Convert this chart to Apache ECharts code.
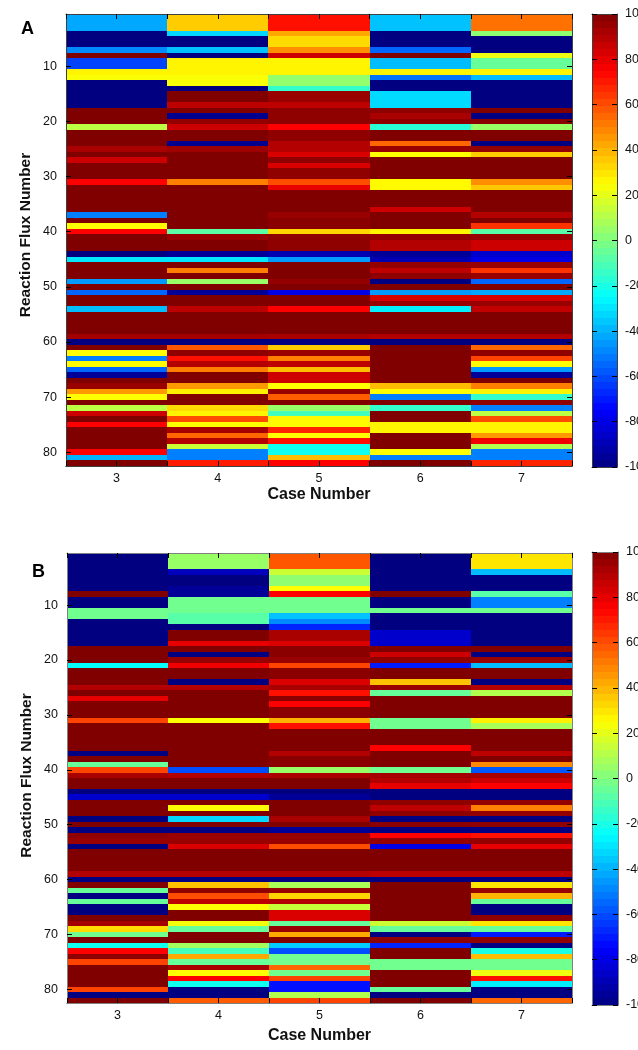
<!DOCTYPE html>
<html><head><meta charset="utf-8">
<style>html,body{margin:0;padding:0;background:#fff}#c{width:638px;height:1050px}</style>
<script src="https://cdn.jsdelivr.net/npm/echarts@6/dist/echarts.min.js"></script>
</head><body><div id="c"></div>
<script>
const cases = ['3','4','5','6','7'];
const fluxNumbers = ['1','2','3','4','5','6','7','8','9','10','11','12','13','14','15','16','17','18','19','20','21','22','23','24','25','26','27','28','29','30','31','32','33','34','35','36','37','38','39','40','41','42','43','44','45','46','47','48','49','50','51','52','53','54','55','56','57','58','59','60','61','62','63','64','65','66','67','68','69','70','71','72','73','74','75','76','77','78','79','80','81','82'];
const colorbarLevels = [-98.4,-95.3,-92.2,-89.1,-85.9,-82.8,-79.7,-76.6,-73.4,-70.3,-67.2,-64.1,-60.9,-57.8,-54.7,-51.6,-48.4,-45.3,-42.2,-39.1,-35.9,-32.8,-29.7,-26.6,-23.4,-20.3,-17.2,-14.1,-10.9,-7.8,-4.7,-1.6,1.6,4.7,7.8,10.9,14.1,17.2,20.3,23.4,26.6,29.7,32.8,35.9,39.1,42.2,45.3,48.4,51.6,54.7,57.8,60.9,64.1,67.2,70.3,73.4,76.6,79.7,82.8,85.9,89.1,92.2,95.3,98.4];

const panelA_case3 = [-42,-42,-42,-100,-100,-100,-48,100,-62,-62,
 27,24,-100,-100,-100,-100,-100,100,100,100,
 12,100,100,100,92,100,85,100,100,100,
 75,100,100,100,100,100,-50,100,25,75,
 100,100,100,-100,-30,100,100,100,-45,100,
 -55,100,100,-38,100,100,100,100,93,-100,
 100,25,-50,25,-55,-95,100,95,45,25,
 100,12,85,100,75,100,100,100,100,75,-40,100];
const panelA_case4 = [35,35,35,-33,-100,-100,-37,-100,27,27,
 27,24,24,-100,100,100,88,100,-97,96,
 85,100,100,-97,94,100,100,100,100,100,
 50,100,100,100,100,100,100,100,100,-7,
 95,100,100,-95,-30,100,50,100,5,100,
 -95,100,100,88,100,100,100,100,93,-100,
 58,97,72,90,50,100,100,45,28,100,
 100,32,27,60,25,93,55,90,15,-50,-50,70];
const panelA_case5 = [72,72,72,42,32,32,47,85,27,27,
 27,4,4,-15,95,95,88,97,97,97,
 75,97,97,90,90,82,97,82,97,97,
 60,80,100,100,100,100,95,98,98,33,
 97,97,97,-90,-45,100,100,100,96,100,
 -80,100,100,75,100,100,100,100,92,-100,
 35,95,50,88,38,85,85,25,95,57,
 100,5,-12,26,26,68,25,72,-22,-22,38,75];
const panelA_case6 = [-37,-37,-37,-100,-100,-100,-55,100,-38,-38,
 27,-52,-100,-100,-32,-32,-32,97,92,97,
 -17,100,100,55,95,25,100,100,100,100,
 26,26,100,100,100,85,100,100,100,27,
 96,90,90,-95,-90,96,88,97,-100,100,
 -45,83,95,-28,100,100,100,100,90,-100,
 100,100,100,100,100,100,100,38,25,-50,
 100,-15,100,100,27,27,100,100,100,25,-50,100];
const panelA_case7 = [53,53,53,3,-100,-100,-100,22,-5,-5,
 27,-38,-100,-100,-100,-100,-100,100,-100,98,
 5,100,100,-100,96,35,100,100,100,100,
 47,36,100,100,100,100,90,100,65,-8,
 95,85,85,-85,-80,95,65,95,-55,100,
 -42,83,95,87,100,100,100,100,90,-100,
 55,97,62,25,-45,-95,100,50,27,-15,
 97,-50,12,60,27,27,45,78,10,-50,-50,68];

const panelB_case3 = [-100,-100,-100,-100,-100,-100,-100,100,-100,-100,
 -3,-3,-100,-100,-100,-100,-100,100,100,100,
 -25,100,100,100,90,100,80,100,100,100,
 62,100,100,100,100,100,-100,100,-5,62,
 92,100,100,-100,-85,100,100,100,-100,100,
 -100,97,95,-100,100,100,100,100,90,-100,
 100,-5,-100,-5,-100,-100,100,93,32,-3,
 100,-22,75,97,62,100,100,100,100,62,-100,100];
const panelB_case4 = [5,5,5,-88,-100,-100,-95,-95,-3,-3,
 -3,-8,-8,-100,100,100,80,100,-100,95,
 78,100,100,-100,90,100,100,100,100,100,
 25,100,100,100,100,100,100,100,100,-60,
 90,100,100,-100,-85,100,25,100,-33,100,
 -100,95,95,82,100,100,100,100,90,-100,
 37,97,60,88,25,100,100,23,-5,100,
 100,7,-12,42,-5,92,25,75,-22,-100,-100,57];
const panelB_case5 = [58,58,58,15,3,3,25,75,-3,-3,
 -3,-37,-48,-68,92,92,82,98,98,95,
 62,98,98,82,92,72,98,75,98,98,
 40,72,100,100,100,100,90,98,98,5,
 92,100,100,-100,-95,100,100,100,92,100,
 -95,95,95,60,100,100,100,100,90,-100,
 8,95,33,90,14,82,82,-5,95,42,
 100,-35,-60,-3,-3,55,-3,62,-72,-72,10,62];
const panelB_case6 = [-100,-100,-100,-100,-100,-100,-100,100,-100,-100,
 -3,-100,-100,-100,-85,-85,-85,100,85,97,
 -70,100,100,37,95,-5,100,100,100,100,
 -3,-3,100,100,100,75,100,100,100,-3,
 93,90,80,-100,-100,97,88,97,-100,98,
 -100,75,96,-80,100,100,100,100,88,-100,
 100,100,100,100,100,100,100,15,-5,-100,
 97,-68,100,100,-3,-3,100,100,100,-5,-100,100];
const panelB_case7 = [30,30,30,-38,-100,-100,-100,-8,-50,-50,
 -3,-100,-100,-100,-100,-100,-100,100,-100,95,
 -38,100,100,-100,90,10,100,100,100,100,
 28,8,100,100,100,100,88,100,48,-58,
 92,85,75,-100,-100,96,50,96,-100,97,
 -100,72,96,80,100,100,100,100,88,-100,
 30,95,40,-5,-100,-100,97,30,-5,-70,
 97,-100,-20,38,-3,-3,22,72,-28,-100,-100,55];

const panelA = [panelA_case3,panelA_case4,panelA_case5,panelA_case6,panelA_case7];
const panelB = [panelB_case3,panelB_case4,panelB_case5,panelB_case6,panelB_case7];

const FONT = '"Liberation Sans", Arial, sans-serif';
const jet = ['#000080','#0000ff','#0080ff','#00ffff','#80ff80','#ffff00','#ff8000','#ff0000','#800000'];
const everyTenth = i => (i + 1) % 10 === 0;
const noSplit = {splitLine:{show:false}, splitArea:{show:false}};

function cells(panel){
  const out = [];
  panel.forEach((col, x) => col.forEach((v, y) => out.push([x, y, v])));
  return out;
}

// a cell of the image, placed by the axes and snapped to whole pixels so neighbouring cells meet exactly
function renderCell(params, api){
  const c = api.coord([api.value(0), api.value(1)]);
  const s = api.size([1, 1]);
  const x0 = Math.round(c[0] - s[0] / 2), x1 = Math.round(c[0] + s[0] / 2);
  const y0 = Math.round(c[1] - s[1] / 2), y1 = Math.round(c[1] + s[1] / 2);
  return {type:'rect', shape:{x:x0, y:y0, width:x1 - x0, height:y1 - y0},
    style:{fill:api.visual('color'), stroke:null, lineWidth:0}};
}

const grid = [], xAxis = [], yAxis = [], series = [];

function addPanel(g, cb, panel, border, xNameGap, yNamePad){
  const line = {show:true, onZero:false, lineStyle:{color:border, width:1}};
  const tick = {show:true, inside:true, length:5, lineStyle:{color:'#000', width:1}};
  const gi = grid.length;
  grid.push(Object.assign({outerBoundsMode:'none', containLabel:false}, g));
  const x0 = xAxis.length, y0 = yAxis.length;
  xAxis.push(Object.assign({gridIndex:gi, type:'category', data:cases, position:'bottom', z:10,
    axisLine:line, axisTick:{show:false},
    axisLabel:{color:'#111', fontFamily:FONT, fontSize:12.5, margin:6},
    name:'Case Number', nameLocation:'middle', nameGap:xNameGap,
    nameTextStyle:{color:'#111', fontFamily:FONT, fontWeight:'bold', fontSize:16}}, noSplit));
  ['bottom','top'].forEach(pos => xAxis.push(Object.assign({gridIndex:gi, type:'value', position:pos, min:2.5, max:7.5, interval:0.5, z:10,
    axisLine:line, axisTick:tick, axisLabel:{show:false}}, noSplit)));
  yAxis.push(Object.assign({gridIndex:gi, type:'category', data:fluxNumbers, inverse:true, position:'left', z:10,
    axisLine:line, axisTick:Object.assign({alignWithLabel:true, interval:everyTenth}, tick),
    axisLabel:{interval:everyTenth, color:'#111', fontFamily:FONT, fontSize:12.5, margin:9},
    name:'Reaction Flux Number', nameLocation:'middle', nameGap:32, nameMoveOverlap:false,
    nameTextStyle:{color:'#111', fontFamily:FONT, fontWeight:'bold', fontSize:15.5, padding:yNamePad}}, noSplit));
  yAxis.push(Object.assign({gridIndex:gi, type:'category', data:fluxNumbers, inverse:true, position:'right', z:10,
    axisLine:line, axisTick:Object.assign({alignWithLabel:true, interval:everyTenth}, tick),
    axisLabel:{show:false}}, noSplit));
  series.push({type:'custom', renderItem:renderCell, xAxisIndex:x0, yAxisIndex:y0, data:cells(panel),
    encode:{x:0, y:1}, animation:false, silent:true, progressive:0});

  // colour bar
  const ci = grid.length;
  grid.push(Object.assign({outerBoundsMode:'none', containLabel:false}, cb));
  const cx = xAxis.length, cy = yAxis.length;
  xAxis.push(Object.assign({gridIndex:ci, type:'category', data:['c'], z:10, position:'bottom', axisLine:line, axisTick:{show:false}, axisLabel:{show:false}}, noSplit));
  xAxis.push(Object.assign({gridIndex:ci, type:'category', data:['c'], z:10, position:'top', axisLine:line, axisTick:{show:false}, axisLabel:{show:false}}, noSplit));
  yAxis.push(Object.assign({gridIndex:ci, type:'category', data:colorbarLevels.map(String), z:1, position:'left', axisLine:{show:false}, axisTick:{show:false}, axisLabel:{show:false}}, noSplit));
  yAxis.push(Object.assign({gridIndex:ci, type:'value', position:'right', min:-100, max:100, interval:20, z:10,
    axisLine:line, axisTick:tick,
    axisLabel:{color:'#111', fontFamily:FONT, fontSize:12.5, margin:8}}, noSplit));
  yAxis.push(Object.assign({gridIndex:ci, type:'value', position:'left', min:-100, max:100, interval:20, z:10,
    axisLine:line, axisTick:tick, axisLabel:{show:false}}, noSplit));
  series.push({type:'custom', renderItem:renderCell, xAxisIndex:cx, yAxisIndex:cy, encode:{x:0, y:1},
    animation:false, silent:true, progressive:0,
    data:colorbarLevels.map((v,i)=>[0,i,v])});
}

addPanel({left:66, top:14, width:506, height:452}, {left:592, top:14, width:25, height:453}, panelA, '#404040', 21, [0,0,0,10]);
addPanel({left:67, top:553, width:505, height:450}, {left:592, top:552, width:26, height:453}, panelB, '#808080', 25, [0,0,0,5]);

const chart = echarts.init(document.getElementById('c'), null, {renderer:'canvas'});
chart.setOption({
  animation:false,
  backgroundColor:'#fff',
  grid, xAxis, yAxis, series,
  visualMap:{show:false, type:'continuous', min:-100, max:100, dimension:2, seriesIndex:[0,1,2,3], inRange:{color:jet}},
  graphic:[
    {type:'text', left:21, top:20, style:{text:'A', fill:'#000', font:'bold 18px '+FONT}, z:20},
    {type:'text', left:32, top:563, style:{text:'B', fill:'#000', font:'bold 18px '+FONT}, z:20}
  ]
});
</script>
</body></html>
